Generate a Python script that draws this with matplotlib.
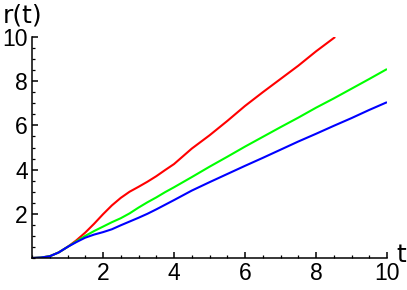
import matplotlib
matplotlib.use("Agg")
import matplotlib.pyplot as plt
from matplotlib.ticker import MultipleLocator

plt.rcParams['font.family'] = ['Liberation Sans', 'DejaVu Sans']

t_blue = [0, 0.25, 0.5, 0.75, 1.0, 1.25, 1.5, 1.75, 2.0, 2.25, 2.5, 2.75, 3.0, 3.25, 3.5,
          4.0, 4.5, 5.0, 5.5, 6.0, 6.5, 7.0, 7.5, 8.0, 8.5, 9.0, 9.5, 10.0]
r_blue = [0, 0.02, 0.08, 0.25, 0.5, 0.72, 0.92, 1.06, 1.17, 1.3, 1.48, 1.65, 1.82, 2.0, 2.2,
          2.62, 3.05, 3.43, 3.8, 4.17, 4.53, 4.9, 5.27, 5.62, 5.98, 6.33, 6.7, 7.05]

t_green = [0, 0.25, 0.5, 0.75, 1.0, 1.25, 1.5, 1.75, 2.0, 2.25, 2.5, 2.75, 3.0, 3.25, 3.5, 3.75,
           4.0, 4.5, 5.0, 5.5, 6.0, 6.5, 7.0, 7.5, 8.0, 8.5, 9.0, 9.5, 10.0]
r_green = [0, 0.02, 0.08, 0.25, 0.5, 0.75, 1.0, 1.22, 1.42, 1.62, 1.8, 2.02, 2.28, 2.52, 2.74, 2.98,
           3.2, 3.66, 4.13, 4.58, 5.04, 5.48, 5.92, 6.35, 6.8, 7.22, 7.66, 8.1, 8.55]

t_red = [0, 0.25, 0.5, 0.75, 1.0, 1.25, 1.5, 1.75, 2.0, 2.25, 2.5, 2.75, 3.0, 3.25, 3.5, 3.75,
         4.0, 4.5, 5.0, 5.5, 6.0, 6.5, 7.0, 7.5, 8.0, 8.54]
r_red = [0, 0.02, 0.08, 0.25, 0.5, 0.8, 1.15, 1.55, 1.98, 2.38, 2.72, 3.0, 3.22, 3.45, 3.7, 3.98,
         4.25, 4.95, 5.55, 6.2, 6.88, 7.5, 8.1, 8.7, 9.35, 10.0]

x_ticks = [2, 4, 6, 8, 10]
y_ticks = [2, 4, 6, 8, 10]

fig = plt.figure(figsize=(4.07, 2.90), dpi=100)
ax = fig.add_axes([32/407, 32/290, 355/407, 221/290])

ax.plot(t_red, r_red, color='#ff0000', lw=1.5, solid_capstyle='butt')
ax.plot(t_green, r_green, color='#00ff00', lw=1.5, solid_capstyle='butt')
ax.plot(t_blue, r_blue, color='#0000ff', lw=1.5, solid_capstyle='butt')

ax.set_xlim(0, 10)
ax.set_ylim(0, 10)
ax.set_xticks(x_ticks)
ax.set_yticks(y_ticks)
ax.xaxis.set_minor_locator(MultipleLocator(0.5))
ax.yaxis.set_minor_locator(MultipleLocator(0.5))
ax.tick_params(which='major', direction='in', length=4.5, width=1.1, labelsize=16.5, pad=3)
ax.tick_params(which='minor', direction='in', length=2.5, width=0.9)
for s in ['top', 'right']:
    ax.spines[s].set_visible(False)
for s in ['left', 'bottom']:
    ax.spines[s].set_linewidth(1.1)

fig.text(3/407, 1 - 15/290, 'r(t)', fontsize=18, ha='left', va='center',
         family=['DejaVu Sans'])
fig.text(396/407, 1 - 255/290, 't', fontsize=18, ha='left', va='center',
         family=['DejaVu Sans'])

fig.savefig('out.png', dpi=100)
